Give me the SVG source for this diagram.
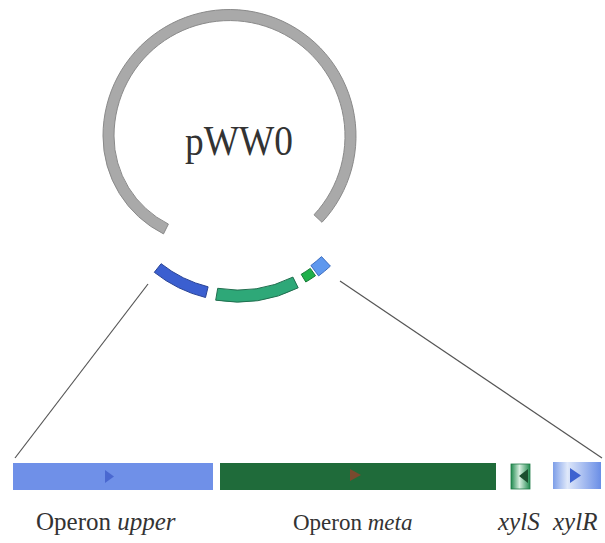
<svg xmlns="http://www.w3.org/2000/svg" width="605" height="543" viewBox="0 0 605 543">
  <style>
    .lbl { font-family: "Liberation Serif", "Times New Roman", serif; fill: #333333; }
    .it { font-style: italic; }
    .conn { stroke: #555555; stroke-width: 1.2; fill: none; }
    .seg { stroke-width: 1; stroke-linejoin: round; }
  </style>
  <defs>
    <linearGradient id="gradS" x1="0" y1="0" x2="1" y2="0">
      <stop offset="0" stop-color="#1f8a4e"/>
      <stop offset="0.45" stop-color="#d8efe0"/>
      <stop offset="1" stop-color="#1f8a4e"/>
    </linearGradient>
    <linearGradient id="gradR" x1="0" y1="0" x2="1" y2="0">
      <stop offset="0" stop-color="#7d9ee8"/>
      <stop offset="0.3" stop-color="#dfe8fa"/>
      <stop offset="1" stop-color="#6a8ee6"/>
    </linearGradient>
  </defs>

  <!-- plasmid ring: open at the bottom where the cloned region sits -->
  <g id="plasmid">
    <path d="M322.0,222.3 A126.5,126.5 0 1 0 103,136 A109.5,109.5 0 0 0 163.5,233.9 L168.4,224.1 A98.5,98.5 0 0 1 114,136 A115.5,115.5 0 1 1 314.0,214.8 Z" fill="#a9a9a9" stroke="#8a8a8a" stroke-width="1"/>
    <text class="lbl" x="185" y="155" font-size="42" textLength="108" lengthAdjust="spacingAndGlyphs">pWW0</text>
  </g>

  <!-- gene regions on the plasmid -->
  <g id="ring-upper">
    <path class="seg" d="M205.5,297.5 A134.5,134.5 0 0 1 154.3,272.3 L161.1,263.7 A123.5,123.5 0 0 0 208.1,286.8 Z" fill="#3b5fd0" stroke="#2a4496"/>
  </g>
  <g id="ring-meta">
    <path class="seg" d="M298.2,287.8 A135,135 0 0 1 215.7,300.2 L217.7,288.3 A123,123 0 0 0 292.9,277.1 Z" fill="#2ea878" stroke="#216e4f"/>
  </g>
  <g id="ring-xylS">
    <path class="seg" d="M315.5,275.7 A133.5,133.5 0 0 1 305.8,282.0 L301.2,274.3 A124.5,124.5 0 0 0 310.3,268.4 Z" fill="#1fb04a" stroke="#177a36"/>
  </g>
  <g id="ring-xylR">
    <path class="seg" d="M330.4,266.1 A135.5,135.5 0 0 1 318.6,275.9 L310.9,265.5 A122.5,122.5 0 0 0 321.5,256.6 Z" fill="#5e98ee" stroke="#3f6fc0"/>
  </g>

  <!-- zoom lines from ring to linear map -->
  <g id="connectors">
    <line class="conn" x1="148" y1="284" x2="15" y2="458"/>
    <line class="conn" x1="340" y1="281" x2="602" y2="458"/>
  </g>

  <!-- linear gene map -->
  <g id="operon-upper">
    <rect x="13" y="463" width="200" height="27" fill="#6f90e8"/>
    <polygon points="105,470 105,483 114,476.5" fill="#4a68d0"/>
    <text class="lbl" x="36" y="530" font-size="25">Operon <tspan class="it">upper</tspan></text>
  </g>
  <g id="operon-meta">
    <rect x="220" y="463" width="276" height="27" fill="#1f6b3a"/>
    <polygon points="350,469 350,481 361,475" fill="#7a4a2e"/>
    <text class="lbl" x="293" y="530" font-size="23">Operon <tspan class="it">meta</tspan></text>
  </g>
  <g id="gene-xylS">
    <rect x="511" y="464" width="19" height="25" fill="url(#gradS)" stroke="#1f7a46" stroke-width="0.8"/>
    <polygon points="519,476 528,469 528,483" fill="#1b4f2e"/>
    <text class="lbl it" x="498" y="530" font-size="25">xylS</text>
  </g>
  <g id="gene-xylR">
    <rect x="553" y="462" width="48" height="27" fill="url(#gradR)"/>
    <polygon points="570,468 570,483 581,475.5" fill="#3d62d0"/>
    <text class="lbl it" x="553" y="530" font-size="25">xylR</text>
  </g>
</svg>
